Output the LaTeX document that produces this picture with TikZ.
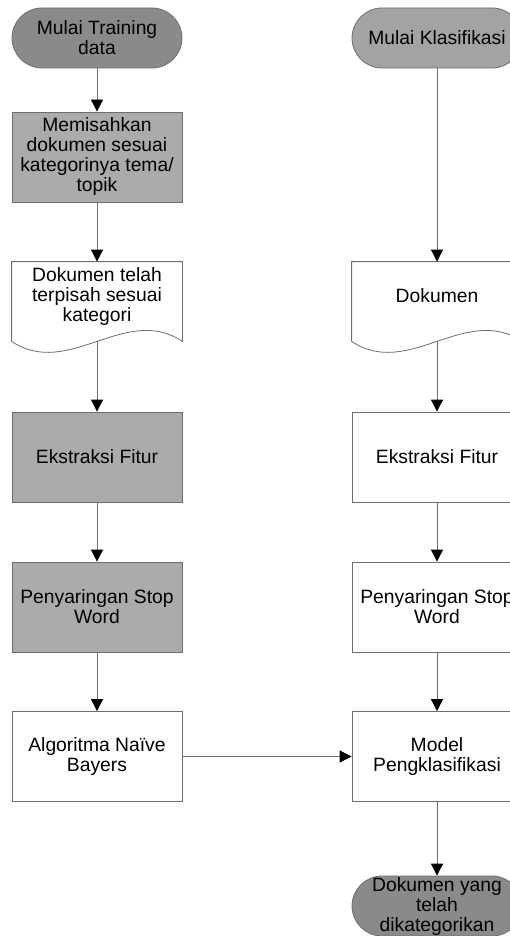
\documentclass[tikz,border=0pt]{standalone}
\usepackage{fontspec}
\setmainfont{Liberation Sans}
\usetikzlibrary{arrows.meta}
\definecolor{termdark}{HTML}{8A8A8A}
\definecolor{termlight}{HTML}{A3A3A3}
\definecolor{boxgray}{HTML}{ABABAB}
\definecolor{edge}{HTML}{6E6E6E}
\tikzset{
  base/.style={draw=edge, line width=0.8pt, align=center, inner sep=0pt,
    font=\fontsize{19.3pt}{20pt}\selectfont, text=black},
  procbox/.style={base, rectangle, minimum width=170pt, minimum height=90pt},
  termbox/.style={base, rectangle, rounded corners=30pt, minimum width=170pt, minimum height=60pt},
  docbox/.style={base, draw=none, rectangle, minimum width=170pt, minimum height=79pt},
  conn/.style={draw=edge, line width=0.8pt, -{Triangle[width=12pt,length=12pt,fill=black,color=black]}}
}
\newcommand{\docwave}[1]{%
  \draw[edge, line width=0.8pt] (#1.south west) -- (#1.north west) -- (#1.north east) -- (#1.south east)
    .. controls ([xshift=-57pt,yshift=38pt]#1.south east) and ([xshift=57pt,yshift=-38pt]#1.south west) .. (#1.south west);}
\begin{document}
\begin{tikzpicture}[x=1pt,y=-1pt]
\useasboundingbox (0,0) rectangle (510,936);
\clip (0,0) rectangle (510,936);
\fill[white] (0,0) rectangle (510,936);
% left column
\node[termbox, fill=termdark] (ls) at (97,38) {Mulai Training\\data};
\node[procbox, fill=boxgray] (lsep) at (97,157) {Memisahkan\\dokumen sesuai\\kategorinya tema/\\topik};
\node[docbox] (ldoc) at (97,301.5) {};
\node[base, draw=none, fill=none] (ldoct) at (97,297) {Dokumen telah\\terpisah sesuai\\kategori};
\node[procbox, fill=boxgray] (lext) at (97,457) {Ekstraksi Fitur};
\node[procbox, fill=boxgray] (lstop) at (97,607) {Penyaringan Stop\\Word};
\node[procbox, fill=white] (lalg) at (97,756.5) {Algoritma Na\"ive\\Bayers};
% right column
\node[termbox, fill=termlight] (rs) at (437,38) {Mulai Klasifikasi};
\node[docbox] (rdoc) at (437,301.5) {};
\node[base, draw=none, fill=none] (rdoct) at (437,296) {Dokumen};
\node[procbox, fill=white] (rext) at (437,457) {Ekstraksi Fitur};
\node[procbox, fill=white] (rstop) at (437,607) {Penyaringan Stop\\Word};
\node[procbox, fill=white] (rmod) at (437,756.5) {Model\\Pengklasifikasi};
\node[termbox, fill=termdark] (rend) at (437,906) {Dokumen yang\\telah\\dikategorikan};
% document outlines
\docwave{ldoc}
\docwave{rdoc}
% connectors
\draw[conn] (ls) -- (lsep);
\draw[conn] (lsep) -- (ldoc.north);
\draw[conn] (ldoc.south) -- (lext);
\draw[conn] (lext) -- (lstop);
\draw[conn] (lstop) -- (lalg);
\draw[conn] (rs) -- (rdoc.north);
\draw[conn] (rdoc.south) -- (rext);
\draw[conn] (rext) -- (rstop);
\draw[conn] (rstop) -- (rmod);
\draw[conn] (rmod) -- (rend);
\draw[conn] (lalg) -- (rmod);
\end{tikzpicture}
\end{document}
